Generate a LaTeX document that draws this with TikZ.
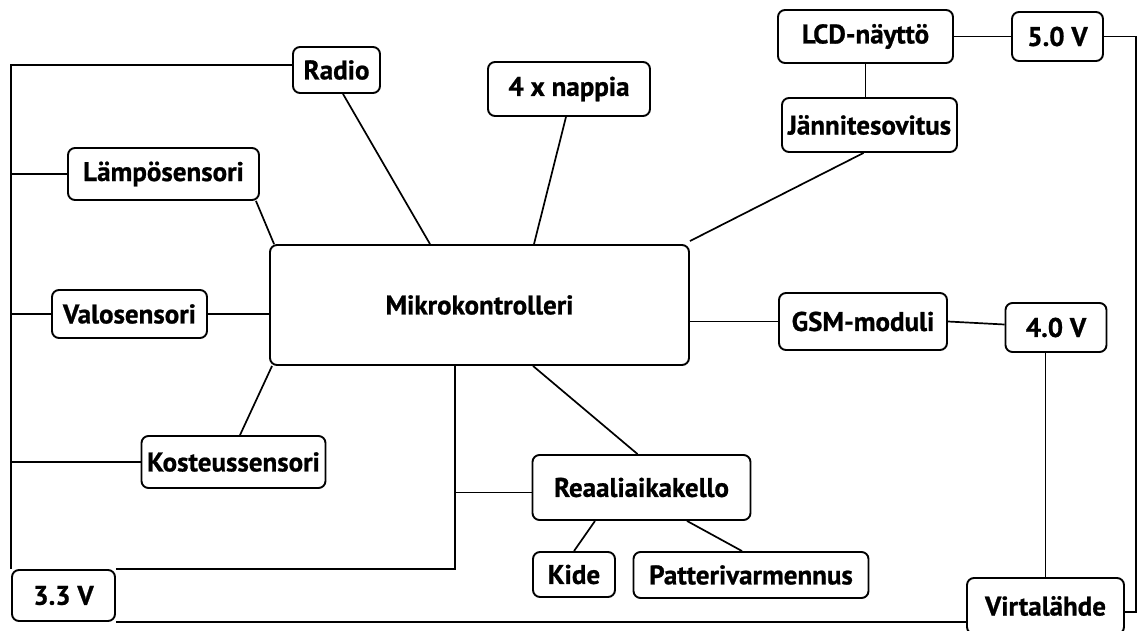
\documentclass[tikz,border=0pt]{standalone}
\usepackage{fontspec}
\setmainfont{PT Sans}[BoldFeatures={FakeBold=0.8}]
\usetikzlibrary{calc}
\begin{document}
\begin{tikzpicture}[x=1pt,y=-1pt,
  blk/.style={draw, line width=1.9pt, rounded corners=7pt, inner sep=0pt,
    font=\fontsize{27}{30}\selectfont\bfseries},
  wire/.style={line width=1.7pt}]
\useasboundingbox (0,0) rectangle (1137,631);

% blocks
\node[blk, minimum width=87pt,  minimum height=46pt]  (radio)  at (336.5,70)   {Radio};
\node[blk, minimum width=162pt, minimum height=54pt]  (nappia) at (569,89)     {4 x nappia};
\node[blk, minimum width=175pt, minimum height=53pt]  (lcd)    at (865.5,36.5) {LCD-näyttö};
\node[blk, minimum width=91pt,  minimum height=49pt]  (v50)    at (1057.5,36.5){5.0 V};
\node[blk, minimum width=175pt, minimum height=54pt]  (jann)   at (869.5,125)  {Jännitesovitus};
\node[blk, minimum width=191pt, minimum height=52pt]  (lampo)  at (163.5,174)  {Lämpösensori};
\node[blk, minimum width=155pt, minimum height=48pt]  (valo)   at (129.5,314)  {Valosensori};
\node[blk, minimum width=419pt, minimum height=120pt] (mikro)  at (479.5,305)  {Mikrokontrolleri};
\node[blk, minimum width=168pt, minimum height=57pt]  (gsm)    at (863,321.5)  {GSM-moduli};
\node[blk, minimum width=101pt, minimum height=49pt]  (v40)    at (1056,327.5) {4.0 V};
\node[blk, minimum width=184pt, minimum height=52pt]  (kost)   at (233.5,462)  {Kosteussensori};
\node[blk, minimum width=218pt, minimum height=65pt]  (rtc)    at (641.5,487.5){Reaaliaikakello};
\node[blk, minimum width=82pt,  minimum height=45pt]  (kide)   at (574,574.5)  {Kide};
\node[blk, minimum width=235pt, minimum height=46pt]  (patt)   at (751,575)    {Patterivarmennus};
\node[blk, minimum width=103pt, minimum height=51pt]  (v33)    at (63.5,595.5) {3.3 V};
\node[blk, minimum width=157pt, minimum height=56pt]  (virta)  at (1045.5,606) {Virtalähde};

% tap point of the 3.3 V line under the microcontroller
\coordinate (tap) at ([xshift=-24.5pt]mikro.south);

% 3.3 V bus on the left
\draw[wire] (v33.north west) |- ([yshift=5pt]radio.west);
\draw[wire] (v33.north west |- lampo.west) -- (lampo.west);
\draw[wire] (v33.north west |- valo.west) -- (valo.west);
\draw[wire] (v33.north west |- kost.west) -- (kost.west);
\draw[wire] (v33.north east) -| (tap);
\draw[wire] ([yshift=-5pt]rtc.west) -- ([yshift=-5pt]rtc.west -| tap);
\draw[wire] (v33.south east) -- (v33.south east -| virta.west);

% sensors and peripherals to the microcontroller
\draw[wire] ([xshift=6.5pt]radio.south) -- ([xshift=-49.5pt]mikro.north);
\draw[wire] ([xshift=-3pt]nappia.south) -- ([xshift=54.5pt]mikro.north);
\draw[wire] ([xshift=-4pt]lampo.south east) -- ([xshift=5pt]mikro.north west);
\draw[wire] (valo.east) -- (valo.east -| mikro.west);
\draw[wire] ([xshift=6.5pt]kost.north) -- ([xshift=3pt]mikro.south west);
\draw[wire] ([xshift=-6pt]jann.south) -- ([yshift=3pt]mikro.north east);
\draw[wire] (gsm.west) -- (gsm.west -| mikro.east);
\draw[wire] ([xshift=53.5pt]mikro.south) -- ([xshift=-4pt]rtc.north);

% real-time clock parts
\draw[wire] ([xshift=-46.5pt]rtc.south) -- (kide.north);
\draw[wire] ([xshift=45.5pt]rtc.south) -- ([xshift=-9pt]patt.north);

% display and supply rails
\draw[wire] (lcd.south) -- (jann.north -| lcd.south);
\draw[wire] (lcd.east) -- (v50.west);
\draw[wire] (v50.east) -- ++(32,0) |- ([yshift=-6pt]virta.east);
\draw[wire] (gsm.east) -- ([yshift=3pt]v40.west);
\draw[wire] (virta.north |- v40.south) -- (virta.north);
\end{tikzpicture}
\end{document}
